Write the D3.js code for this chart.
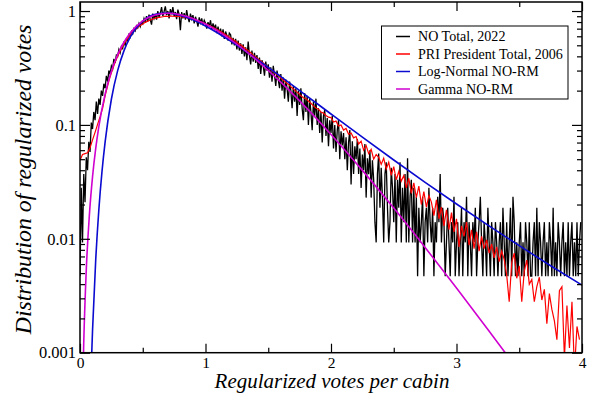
<!DOCTYPE html>
<html><head><meta charset="utf-8">
<script src="https://cdn.jsdelivr.net/npm/d3@7"></script>
<style>
body{margin:0;background:#fff;}
svg text{font-family:'Liberation Serif','Times New Roman','Liberation Sans',Arial,sans-serif;fill:#000;}
</style></head>
<body><svg id="c" width="594" height="399"></svg>
<script>
// ---------- data ----------
const xTickValues = [0, 1, 2, 3, 4];
const xMinorTicks = [0.5, 1.5, 2.5, 3.5];
const yTickValues = [0.001, 0.01, 0.1, 1];
const yTickLabels = ["0.001", "0.01", "0.1", "1"];
const yMinorTicks = [0.002,0.003,0.004,0.005,0.006,0.007,0.008,0.009,
                     0.02,0.03,0.04,0.05,0.06,0.07,0.08,0.09,
                     0.2,0.3,0.4,0.5,0.6,0.7,0.8,0.9];
const seriesNames = ["NO Total, 2022", "PRI President Total, 2006", "Log-Normal NO-RM", "Gamma NO-RM"];

// NO Total 2022 : histogram, bin width 0.01 starting at 0
const noBinWidth = 0.01;
const noValues = [
0.0047,0.028,0.0093,0.037,0.021,0.052,0.040,0.071,0.058,0.105,
0.092,0.13,0.11,0.16,0.125,0.17,0.15,0.2,0.18,0.23,
0.21,0.27,0.24,0.3,0.28,0.33,0.31,0.38,0.35,0.41,
0.40,0.46,0.43,0.49,0.47,0.54,0.5,0.57,0.55,0.62,
0.59,0.66,0.63,0.70,0.67,0.74,0.71,0.78,0.73,0.8,
0.77,0.86,0.79,0.9,0.81,0.93,0.84,0.76,0.95,0.86,
0.94,0.84,1.0,0.88,0.96,1.08,0.9,0.99,1.1,0.92,
1.0,0.86,1.04,0.94,1.08,0.9,0.98,0.85,1.03,0.93,
0.68,0.98,0.86,0.96,0.84,1.02,0.88,0.8,0.95,0.85,
0.92,0.78,0.89,0.82,0.73,0.88,0.79,0.86,0.75,0.83,
0.78,0.7,0.8,0.73,0.83,0.69,0.78,0.7,0.76,0.64,
0.73,0.63,0.7,0.6,0.69,0.57,0.66,0.61,0.55,0.64,
0.62,0.51,0.58,0.5,0.57,0.46,0.55,0.45,0.52,0.42,
0.51,0.4,0.48,0.37,0.54,0.41,0.34,0.45,0.36,0.43,
0.35,0.41,0.31,0.39,0.28,0.37,0.33,0.27,0.36,0.3,
0.34,0.26,0.32,0.24,0.33,0.27,0.22,0.3,0.25,0.21,
0.28,0.2,0.26,0.17,0.25,0.21,0.16,0.24,0.2,0.14,
0.22,0.16,0.21,0.12,0.2,0.15,0.21,0.14,0.11,0.19,
0.13,0.18,0.1,0.17,0.13,0.09,0.16,0.12,0.17,0.1,
0.14,0.085,0.13,0.07,0.12,0.135,0.08,0.115,0.065,0.11,
0.085,0.12,0.062,0.1,0.058,0.09,0.11,0.05,0.088,0.066,
0.085,0.05,0.078,0.04,0.07,0.09,0.03,0.072,0.037,0.065,
0.05,0.075,0.037,0.062,0.028,0.055,0.04,0.068,0.023,0.051,
0.037,0.06,0.023,0.049,0.033,0.014,0.0093,0.037,0.056,0.0187,
0.042,0.023,0.0093,0.037,0.047,0.0187,0.0093,0.014,0.042,0.028,
0.014,0.037,0.0093,0.033,0.0187,0.047,0.0093,0.028,0.014,0.037,
0.0093,0.051,0.0093,0.0234,0.033,0.0093,0.028,0.0093,0.0234,0.0047,
0.0187,0.0093,0.014,0.0234,0.0047,0.014,0.0187,0.0093,0.028,0.014,
0.0093,0.0187,0.0047,0.014,0.0093,0.0234,0.014,0.037,0.0093,0.0187,
0.014,0.0047,0.0093,0.0187,0.0093,0.0047,0.014,0.0093,0.0234,0.0047,
0.0093,0.014,0.0047,0.0093,0.0187,0.0047,0.014,0.0093,0.0234,0.0047,
0.014,0.0093,0.0047,0.014,0.0093,0.0187,0.0047,0.0093,0.014,0.0234,
0.0093,0.0047,0.014,0.0093,0.0047,0.0187,0.0093,0.0047,0.014,0.0093,
0.0047,0.014,0.0093,0.0047,0.0093,0.014,0.0047,0.0187,0.0093,0.0047,
0.014,0.0047,0.0093,0.0187,0.0047,0.0234,0.014,0.0047,0.0093,0.0047,
0.0093,0.014,0.0047,0.0093,0.0047,0.014,0.0093,0.0047,0.014,0.0047,
0.0047,0.0093,0.014,0.0047,0.0187,0.0047,0.014,0.0093,0.0047,0.0093,
0.014,0.0047,0.0093,0.0047,0.014,0.0093,0.0047,0.0187,0.0047,0.0093,
0.0047,0.014,0.0093,0.0047,0.0093,0.014,0.0047,0.0093,0.0047,0.014,
0.0047,0.0093,0.014,0.0047,0.0093,0.0047,0.014,0.0047,0.0093,0.014
];

// PRI President Total 2006 : bin width 0.02 starting at 0
const priBinWidth = 0.02;
const priValues = [
0.049,0.055,0.056,0.057,0.063,0.074,0.086,0.101,0.118,0.14,
0.18,0.22,0.265,0.31,0.355,0.40,0.445,0.49,0.535,0.575,
0.615,0.655,0.685,0.72,0.745,0.77,0.795,0.815,0.835,0.85,
0.865,0.875,0.885,0.89,0.9,0.895,0.905,0.9,0.895,0.9,
0.89,0.885,0.875,0.87,0.855,0.845,0.83,0.815,0.8,0.79,
0.77,0.755,0.735,0.72,0.7,0.68,0.66,0.64,0.62,0.6,
0.58,0.56,0.545,0.52,0.505,0.485,0.465,0.45,0.43,0.41,
0.395,0.38,0.365,0.35,0.335,0.32,0.305,0.295,0.28,0.27,
0.258,0.248,0.236,0.228,0.216,0.207,0.197,0.19,0.18,0.173,
0.17,0.162,0.155,0.147,0.141,0.137,0.13,0.127,0.121,0.117,
0.116,0.106,0.108,0.098,0.1,0.09,0.093,0.083,0.085,0.077,
0.079,0.068,0.072,0.06,0.066,0.056,0.061,0.05,0.055,0.052,
0.045,0.051,0.041,0.047,0.036,0.043,0.033,0.039,0.032,0.036,
0.028,0.034,0.025,0.031,0.023,0.029,0.02,0.026,0.019,0.024,
0.021,0.016,0.022,0.015,0.019,0.013,0.018,0.012,0.017,0.0115,
0.015,0.0085,0.013,0.0105,0.014,0.0088,0.012,0.0082,0.0115,0.0078,
0.0105,0.0082,0.0098,0.0075,0.009,0.0068,0.0085,0.0063,0.0078,0.0066,
0.0048,0.0028,0.0062,0.0075,0.0045,0.0058,0.0028,0.0052,0.0065,0.004,
0.0044,0.0028,0.0038,0.0046,0.0029,0.0036,0.0018,0.0033,0.0024,0.0019,
0.0013,0.0035,0.0038,0.0009,0.0026,0.0011,0.0028,0.0007,0.0017,0.0013
];

// Log-Normal NO-RM curve
const logNormX = [0.08,0.09,0.1,0.125,0.15,0.175,0.2,0.25,0.3,0.35,0.4,0.5,0.6,0.7,0.8,0.9,1.0,1.2,1.4,1.6,1.8,2.0,2.25,2.5,2.75,3.0,3.25,3.5,3.75,4.0];
const logNormY = [0.00033,0.00077,0.00158,0.00645,0.0179,0.0387,0.0707,0.168,0.2997,0.4466,0.589,0.816,0.935,0.959,0.916,0.836,0.739,0.544,0.384,0.2655,0.182,0.1247,0.078,0.0492,0.03134,0.0202,0.01318,0.0087,0.0058,0.00392];

// Gamma NO-RM curve
const gammaX = [0.02,0.025,0.03,0.05,0.075,0.1,0.125,0.15,0.2,0.25,0.3,0.35,0.4,0.5,0.6,0.7,0.8,0.9,1.0,1.2,1.4,1.6,1.8,2.0,2.25,2.5,2.75,3.0,3.25,3.4,3.5];
const gammaY = [0.00038,0.00073,0.00124,0.00533,0.01636,0.0352,0.062,0.0968,0.1864,0.2955,0.4136,0.532,0.642,0.819,0.923,0.955,0.928,0.861,0.768,0.561,0.3765,0.2374,0.1426,0.0825,0.0399,0.0186,0.0084,0.0037,0.0016,0.00096,0.00068];

// ---------- chart ----------
const svg = d3.select("#c");
const L = 80, R = 582, T = 2, B = 352.7;
const x = d3.scaleLinear().domain([0, 4]).range([L, R]);
const y = d3.scaleLog().domain([0.001, 1.2]).range([B, T]);

// scale a text's font size so its width matches the width seen in the reference
function fitWidth(sel, target) {
  const w = sel.node().getComputedTextLength();
  const fs = parseFloat(sel.style("font-size"));
  const nfs = Math.min(fs * target / w, fs * 1.25);
  sel.style("font-size", nfs + "px");
  return nfs;
}

svg.append("clipPath").attr("id", "clip").append("rect")
  .attr("x", L).attr("y", T).attr("width", R - L).attr("height", B - T);

const g = svg.append("g").attr("clip-path", "url(#clip)");

const noData = noValues.map((v, i) => [i * noBinWidth, v]);
const priData = priValues.map((v, i) => [i * priBinWidth, v]);
const lnData = logNormX.map((v, i) => [v, logNormY[i]]);
const gmData = gammaX.map((v, i) => [v, gammaY[i]]);

const lineRaw = d3.line().x(d => x(d[0])).y(d => y(d[1]));
const lineSmooth = d3.line().x(d => x(d[0])).y(d => y(d[1])).curve(d3.curveMonotoneX);

const colors = ["#000000", "#ff0000", "#0a0ad0", "#d000d0"];

g.append("path").datum(noData).attr("d", lineRaw)
  .attr("fill", "none").attr("stroke", colors[0]).attr("stroke-width", 1.3);
g.append("path").datum(priData).attr("d", lineRaw)
  .attr("fill", "none").attr("stroke", colors[1]).attr("stroke-width", 1.2);
g.append("path").datum(lnData).attr("d", lineSmooth)
  .attr("fill", "none").attr("stroke", colors[2]).attr("stroke-width", 1.6);
g.append("path").datum(gmData).attr("d", lineSmooth)
  .attr("fill", "none").attr("stroke", colors[3]).attr("stroke-width", 1.6);

// axes (ticks inward, mirrored)
function style(sel){
  sel.attr("font-family", null).attr("font-size", null);
  sel.select(".domain").remove();
  sel.selectAll("line").attr("stroke", "#000").attr("stroke-width", 1.2);
  sel.selectAll("text").style("font-size", "15px").attr("fill", "#000");
}
const xAxisG = svg.append("g").attr("transform", `translate(0,${B})`)
  .call(d3.axisBottom(x).tickValues(xTickValues).tickFormat(d3.format("d")).tickSizeInner(-9).tickSizeOuter(0).tickPadding(4))
  .call(style);
svg.append("g").attr("transform", `translate(0,${B})`)
  .call(d3.axisBottom(x).tickValues(xMinorTicks).tickFormat("").tickSizeInner(-5).tickSizeOuter(0))
  .call(style);
svg.append("g").attr("transform", `translate(0,${T})`)
  .call(d3.axisTop(x).tickValues(xTickValues).tickFormat("").tickSizeInner(-9).tickSizeOuter(0))
  .call(style);
svg.append("g").attr("transform", `translate(0,${T})`)
  .call(d3.axisTop(x).tickValues(xMinorTicks).tickFormat("").tickSizeInner(-5).tickSizeOuter(0))
  .call(style);
const yAxisG = svg.append("g").attr("transform", `translate(${L},0)`)
  .call(d3.axisLeft(y).tickValues(yTickValues).tickFormat((d, i) => yTickLabels[i]).tickSizeInner(-10).tickSizeOuter(0).tickPadding(4))
  .call(style);
svg.append("g").attr("transform", `translate(${L},0)`)
  .call(d3.axisLeft(y).tickValues(yMinorTicks).tickFormat("").tickSizeInner(-5).tickSizeOuter(0))
  .call(style);
svg.append("g").attr("transform", `translate(${R},0)`)
  .call(d3.axisRight(y).tickValues(yTickValues).tickFormat("").tickSizeInner(-10).tickSizeOuter(0))
  .call(style);
svg.append("g").attr("transform", `translate(${R},0)`)
  .call(d3.axisRight(y).tickValues(yMinorTicks).tickFormat("").tickSizeInner(-5).tickSizeOuter(0))
  .call(style);

// tick label size: "0.001" is about 37px wide in the reference
const tickFs = fitWidth(yAxisG.selectAll("text").filter((d, i) => i === 0), 37);
yAxisG.selectAll("text").style("font-size", tickFs + "px");
xAxisG.selectAll("text").style("font-size", Math.min(tickFs, 15.5) + "px");

svg.append("rect").attr("x", L).attr("y", T).attr("width", R - L).attr("height", B - T)
  .attr("fill", "none").attr("stroke", "#000").attr("stroke-width", 1.5);

// axis titles
const xt = svg.append("text").attr("x", 332).attr("y", 388).attr("text-anchor", "middle")
  .style("font-size", "20px").style("font-style", "italic").text("Regularized votes per cabin");
fitWidth(xt, 235);
const yt = svg.append("text").attr("transform", `translate(31,${(T + B) / 2 + 2}) rotate(-90)`).attr("text-anchor", "middle")
  .style("font-size", "20px").style("font-style", "italic").text("Distribution of regularized votes");
fitWidth(yt, 310);

// legend
const lg = svg.append("g");
lg.append("rect").attr("x", 381.5).attr("y", 26).attr("width", 186.5).attr("height", 73)
  .attr("fill", "#fff").attr("stroke", "#000").attr("stroke-width", 1);
const legTexts = [];
seriesNames.forEach((name, i) => {
  const yy = 36.5 + i * 17.5;
  lg.append("line").attr("x1", 396).attr("x2", 410).attr("y1", yy).attr("y2", yy)
    .attr("stroke", colors[i]).attr("stroke-width", 1.5);
  legTexts.push(lg.append("text").attr("x", 418).attr("y", yy).attr("dy", "0.35em")
    .style("font-size", "14px").text(name));
});
const legFs = fitWidth(legTexts[1], 145);
legTexts.forEach(t => t.style("font-size", legFs + "px"));
</script></body></html>
